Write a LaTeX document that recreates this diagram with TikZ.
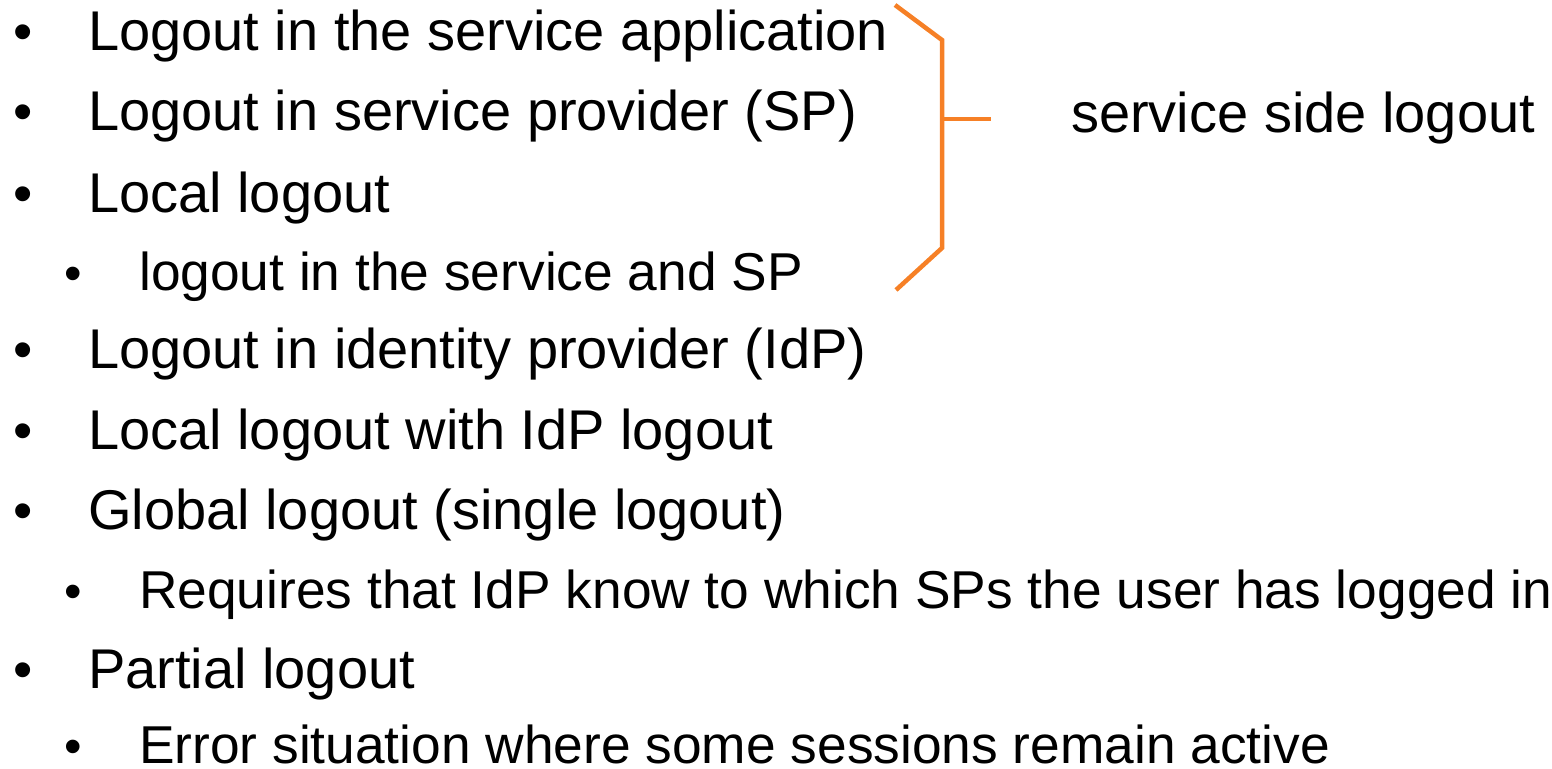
\documentclass[tikz,border=0pt]{standalone}
\usepackage{fontspec}
\setmainfont{Liberation Sans}
\usepackage{xcolor}
\usetikzlibrary{positioning}

\definecolor{braceorange}{RGB}{246,128,38}

\begin{document}
\begin{tikzpicture}[
  x=1pt, y=-1pt,
  item/.style={anchor=base west, inner sep=0pt, font=\fontsize{56}{60}\selectfont},
  subitem/.style={anchor=base west, inner sep=0pt, text depth=0pt, font=\fontsize{53.3}{60}\selectfont},
  dot/.style={anchor=base, inner sep=0pt, font=\fontsize{55}{60}\selectfont},
  subdot/.style={anchor=base, inner sep=0pt, font=\fontsize{50}{60}\selectfont},
  brace/.style={draw=braceorange, line width=4.5pt, line join=miter}
]
  \useasboundingbox (0,0) rectangle (1552,768);

  % main points and sub points
  \node[item] (appl) at (88,51) {Logout in the service application};
  \node[item] (sp) at (88,130) {Logout in service provider (SP)};
  \node[item] (local) at (88,212) {Local logout};
  \node[subitem] (localsub) at (139,290) {logout in the service and SP};
  \node[item] (idp) at (88,368) {Logout in identity provider (IdP)};
  \node[item] (idplocal) at (88,449) {Local logout with IdP logout};
  \node[item] (global) at (88,529) {Global logout (single logout)};
  \node[subitem] (globalsub) at (139,608) {Requires that IdP know to which SPs the user has logged in};
  \node[item] (partial) at (88,688) {Partial logout};
  \node[subitem] (partialsub) at (139,763) {Error situation where some sessions remain active};

  % bullets
  \node[dot] (b1) at (23,51) {•};
  \node[dot] (b2) at (23,130) {•};
  \node[dot] (b3) at (23,212) {•};
  \node[subdot] (b4) at (73,290) {•};
  \node[dot] (b5) at (23,368) {•};
  \node[dot] (b6) at (23,449) {•};
  \node[dot] (b7) at (23,529) {•};
  \node[subdot] (b8) at (73,608) {•};
  \node[dot] (b9) at (23,688) {•};
  \node[subdot] (b10) at (73,763) {•};

  % brace over the first four lines
  \coordinate (bracetop) at (942,40);
  \coordinate (bracemid) at (942,119);
  \coordinate (bracebot) at (942,248);
  \draw[brace] (895,5) -- (bracetop) -- (bracebot) -- (896,290);
  \draw[brace] (bracemid) -- (991,119);

  \node[item] (side) at (1071,132) {service side logout};
\end{tikzpicture}
\end{document}
